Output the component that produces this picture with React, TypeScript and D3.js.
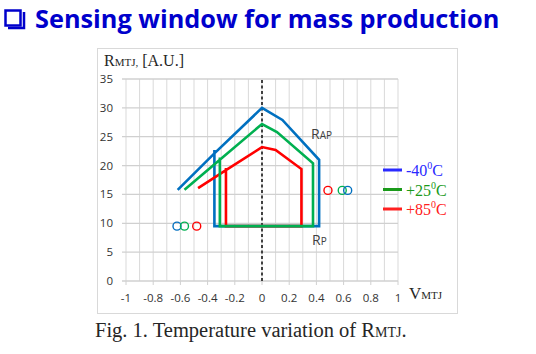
import React from 'react';
import * as d3 from 'd3';

// R_MTJ vs V_MTJ windows
const blueX = [-0.62, -0.35, 0, 0.15, 0.42, 0.42, -0.35, -0.35];
const blueY = [15.8, 22.1, 30, 27.9, 21, 9.5, 9.5, 22.7];
const greenX = [-0.57, -0.31, 0, 0.11, 0.375, 0.375, -0.31, -0.31];
const greenY = [15.8, 21.0, 27.2, 25.8, 20.4, 9.5, 9.5, 21.4];
const redX = [-0.47, -0.265, 0, 0.1, 0.29, 0.29, -0.265, -0.265];
const redY = [16.1, 19.2, 23.2, 22.7, 19.4, 9.5, 9.5, 19.6];

// open circle markers
const markX = [-0.625, -0.57, -0.48, 0.485, 0.59, 0.63];
const markY = [9.5, 9.5, 9.5, 15.7, 15.7, 15.7];
const markSeries = ['-40', '+25', '+85', '+85', '+25', '-40'];

const legendLabels = ['-40', '+25', '+85'];
const xTicks = [-1, -0.8, -0.6, -0.4, -0.2, 0, 0.2, 0.4, 0.6, 0.8, 1];
const yTicks = [0, 5, 10, 15, 20, 25, 30, 35];

const lineColor: Record<string, string> = { '-40': '#0070c0', '+25': '#00b050', '+85': '#ff0000' };
const legendColor: Record<string, string> = { '-40': '#2a2aff', '+25': '#1a9a1a', '+85': '#ff2020' };

const App: React.FC = () => {
  const x = d3.scaleLinear().domain([-1, 1]).range([126, 398]);
  const y = d3.scaleLinear().domain([0, 35]).range([281, 79]);

  const line = d3
    .line<[number, number]>()
    .x((d) => x(d[0]))
    .y((d) => y(d[1]));

  const series = [
    { key: '-40', xs: blueX, ys: blueY },
    { key: '+85', xs: redX, ys: redY },
    { key: '+25', xs: greenX, ys: greenY },
  ];

  const minor = d3.range(-10, 11).map((i) => i / 10);
  const sans = '"Open Sans", "Noto Sans", sans-serif';
  const serif = '"Liberation Serif", "Times New Roman", serif';

  return (
    <svg width={536} height={354} style={{ position: 'absolute', left: 0, top: 0, background: '#fff' }}>
      {/* title */}
      <rect x={5.5} y={10.5} width={15} height={15} fill="none" stroke="#0000cc" strokeWidth={2.5} />
      <path d="M8,28 H24 V12" fill="none" stroke="#0000cc" strokeWidth={2.5} />
      <text x={35} y={28} fontFamily={sans} fontWeight={700} fontSize={25.3} fill="#0000cc">
        Sensing window for mass production
      </text>

      {/* chart frame */}
      <rect x={97.5} y={48.5} width={360} height={265} fill="#fff" stroke="#d9d9d9" />

      {/* grid */}
      {minor.map((v) => (
        <line key={'v' + v} x1={x(v)} x2={x(v)} y1={y(0)} y2={y(35)} stroke="#d9d9d9" strokeWidth={1} />
      ))}
      {yTicks.map((v) => (
        <line key={'h' + v} x1={x(-1) - 4} x2={x(1)} y1={y(v)} y2={y(v)} stroke="#d0d0d0" strokeWidth={1.3} />
      ))}
      {xTicks.map((v) => (
        <line key={'t' + v} x1={x(v)} x2={x(v)} y1={y(0)} y2={y(0) + 4} stroke="#d0d0d0" />
      ))}
      <line x1={x(0)} x2={x(0)} y1={y(0)} y2={y(35)} stroke="#404040" strokeWidth={2} strokeDasharray="3,2.5" />

      {/* tick labels */}
      {yTicks.map((v) => (
        <text key={'yl' + v} x={113} y={y(v) + 4} textAnchor="end" fontFamily={sans} fontSize={11.5} fill="#333">
          {v}
        </text>
      ))}
      {xTicks.map((v) => (
        <text key={'xl' + v} x={x(v)} y={302} textAnchor="middle" fontFamily={sans} fontSize={11.5} fill="#333">
          {v}
        </text>
      ))}

      {/* series */}
      {series.map((s) => (
        <path
          key={s.key}
          d={line(s.xs.map((v, i) => [v, s.ys[i]] as [number, number])) || ''}
          fill="none"
          stroke={lineColor[s.key]}
          strokeWidth={2.6}
        />
      ))}
      {markX.map((v, i) => (
        <circle key={'m' + i} cx={x(v)} cy={y(markY[i])} r={4} fill="none" stroke={lineColor[markSeries[i]]} strokeWidth={1.4} />
      ))}

      {/* curve labels */}
      <text x={311} y={139} fontFamily={sans} fontSize={14} fill="#404040">
        R<tspan fontSize={10}>AP</tspan>
      </text>
      <text x={312} y={245} fontFamily={sans} fontSize={14} fill="#404040">
        R<tspan fontSize={10}>P</tspan>
      </text>

      {/* legend */}
      {legendLabels.map((k, i) => (
        <g key={'lg' + k} transform={`translate(0, ${170 + i * 19.5})`}>
          <line x1={383} x2={402} y1={0} y2={0} stroke={legendColor[k]} strokeWidth={3} />
          <text x={406} y={6} fontFamily={serif} fontSize={16} fill={legendColor[k]}>
            {k}
            <tspan fontSize={10} dy={-7}>0</tspan>
            <tspan dy={7}>C</tspan>
          </text>
        </g>
      ))}

      {/* axis titles */}
      <text x={104} y={66} fontFamily={serif} fontSize={16} fill="#262626">
        R<tspan fontSize={11}>MTJ,</tspan> [A.U.]
      </text>
      <text x={409} y={299} fontFamily={serif} fontSize={17} fill="#262626">
        V<tspan fontSize={11}>MTJ</tspan>
      </text>

      {/* caption */}
      <text x={95} y={337} fontFamily={serif} fontSize={20.5} fill="#262626">
        Fig. 1. Temperature variation of R<tspan fontSize={14}>MTJ</tspan>.
      </text>
    </svg>
  );
};

export default App;
